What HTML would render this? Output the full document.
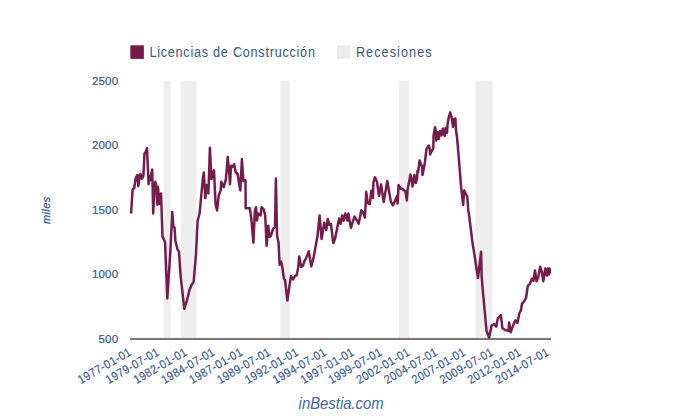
<!DOCTYPE html>
<html><head><meta charset="utf-8"><style>
html,body{margin:0;padding:0;background:#fff;}
body{width:680px;height:420px;overflow:hidden;}
svg{display:block;}
text{font-family:"Liberation Sans",sans-serif;}
</style></head><body>
<svg width="680" height="420" viewBox="0 0 680 420">
<rect x="0" y="0" width="680" height="420" fill="#fff"/>
<rect x="130.3" y="45.3" width="13.6" height="13.6" fill="#761c4c"/>
<text transform="translate(149.4,56.9) scale(0.83,1)" font-size="15.2" textLength="199.4" lengthAdjust="spacing" fill="#35568f">Licencias de Construcción</text>
<rect x="336.8" y="45.3" width="13.6" height="13.6" fill="#ececec"/>
<text transform="translate(355.9,56.9) scale(0.83,1)" font-size="15.2" textLength="91.2" lengthAdjust="spacing" fill="#35568f">Recesiones</text>
<rect x="163.70" y="80.5" width="6.90" height="258" fill="#eeeeee"/><rect x="180.80" y="80.5" width="15.70" height="258" fill="#eeeeee"/><rect x="280.30" y="80.5" width="9.40" height="258" fill="#eeeeee"/><rect x="399.30" y="80.5" width="9.60" height="258" fill="#eeeeee"/><rect x="475.50" y="80.5" width="17.20" height="258" fill="#eeeeee"/>
<rect x="130" y="338" width="421" height="2" fill="#777"/>
<path d="M131.1,213.5 L132.6,189.3 L134.2,188.3 L135.2,181 L135.7,178.1 L137.3,175 L138.3,186.2 L139.8,175 L140.4,174 L141.9,178.6 L143.4,176 L144.5,153.4 L145.5,152.4 L147,148.2 L148.1,173 L148.6,184.2 L149.5,176 L150.1,180.2 L152.2,169.4 L153.2,213.5 L154.8,183.1 L155.3,181.7 L156.3,186 L157.4,204.8 L158,187 L159.4,203.7 L161,193.4 L162.5,236.6 L164,239.7 L165.1,242.8 L167.3,298.5 L170.2,254 L172.3,212 L173.3,226.3 L174.5,227.5 L175.4,240.7 L177.4,249 L179,252 L180.5,274.6 L184.3,308.8 L186.9,300.6 L189.4,290.3 L191.5,285 L193.6,282 L196,254 L197.6,221 L199.6,213.5 L202.7,180 L203.8,172.4 L205.3,198.1 L206.5,185 L208.4,193.4 L209.9,147.7 L211.5,179.1 L214,170.4 L215.6,204.8 L217.1,210.4 L218.7,195.5 L220.7,190.4 L221.3,181.7 L223.8,187.3 L225.9,179.1 L227.7,157 L229.5,176 L230,184.2 L231,165.7 L232.5,167 L234.1,164.2 L235.7,172 L237.7,174 L239,183 L240.3,190.4 L241.9,159 L243.4,181 L245.5,180.2 L245.7,208.2 L247,208.2 L249.8,208.2 L251.3,218.5 L253.4,242.7 L254.9,210.3 L256,207.2 L257,220.6 L258,213.4 L260.6,215.4 L261.6,207.2 L263.7,209.3 L265.2,215.4 L266.6,245.8 L268.3,225.7 L269.5,237 L270.9,236 L273,228.8 L275,226.8 L275.9,178.4 L277.1,236 L278.6,243 L279.6,264.8 L281.2,261.7 L282.3,267 L283.8,278.4 L285,280 L287.4,300.5 L289.5,285.6 L291,276.3 L293.1,279.4 L295,276 L296.7,275.3 L298.3,267 L299.2,256.6 L301.3,266.9 L303,265.5 L304.6,260.7 L306,258.6 L308.8,251.4 L311.3,266.4 L313.4,258.7 L316,244.2 L317.5,236 L319.6,215.4 L321.6,239.1 L324.2,222.7 L326.3,229.9 L327.8,219 L329.3,224.7 L330.9,223.7 L333.3,243 L335,239 L339.1,218.5 L340.6,223.7 L342.2,215.4 L343.8,220.6 L345.2,213.4 L346.5,217 L347.4,220.5 L348.4,213.5 L349.5,220 L351,227.8 L352.5,222.7 L354.6,216.5 L358.7,223.7 L361.3,210.3 L363,212 L364.9,217.5 L365.9,200 L366.2,191.8 L367.7,203.1 L369.8,204.1 L371.3,190.7 L372.9,198 L373.4,182.5 L374.9,177.4 L376.9,181.5 L379,195.9 L381.1,184.6 L383.7,202.1 L387.3,181 L390.9,202.1 L393,205.2 L395,201 L397.1,195.9 L397.6,203.6 L398.6,185.1 L400.7,188.7 L402.2,188.7 L405.5,191.5 L406.9,200.5 L407.6,189.4 L408.9,183.1 L410.4,174.5 L411.8,180.5 L412.5,186.5 L413.5,180 L414.4,175 L415.7,183 L417,178.9 L417.5,171 L418.2,172 L419.6,160.5 L421,164.4 L422,166 L422.5,175 L424.1,167 L425,161.5 L426.5,149 L428.8,145.5 L429.6,147.5 L430.1,154.5 L431.7,151 L433.3,148.5 L433.6,135 L435.1,127.3 L436,132 L436.3,140.5 L437.5,132 L438.7,139 L440.2,131 L441.4,135.5 L442.9,128.5 L444.6,136 L445.8,128 L447,133 L447.6,124 L448.8,117 L450.2,112.4 L451.4,116.5 L452.2,121 L453,127 L454.2,119 L455.4,118.5 L456,130 L457.1,138 L457.7,145 L459.1,161.7 L461.1,187.4 L463.2,205 L464.2,190.5 L467.3,196.7 L468.3,211.1 L468.7,212.1 L472.8,245.1 L473.4,248.1 L478,278 L481.1,251.7 L481.6,274.9 L482.4,286.2 L486.5,330.7 L489.1,337.5 L491.6,325.6 L494.2,324 L496.3,326.6 L497.8,318.4 L500.9,315.3 L502.4,328.2 L505.5,330.2 L508.6,330.7 L509.1,322.5 L510.7,332.3 L512.2,327.7 L515.3,320.4 L517.4,323 L519.4,313.2 L521,310 L522,303.7 L524,301.6 L526.1,297.5 L527.8,285.9 L529.9,283.8 L531.9,278.7 L533.5,280.7 L535,270.4 L536.6,281.3 L538.1,277.7 L540.2,266.8 L541.7,271.5 L543.3,281.3 L545.3,268.4 L546.9,275.6 L547.9,268.4 L549,274.6 L549.6,268.4 L550,273.5" fill="none" stroke="#761c4c" stroke-width="2.5" stroke-linejoin="round" stroke-linecap="butt"/>
<g font-size="11.5" letter-spacing="0.15" stroke="#35568f" stroke-width="0.2" fill="#35568f"><text x="118.2" y="85.4" text-anchor="end">2500</text><text x="118.2" y="149.4" text-anchor="end">2000</text><text x="118.2" y="213.9" text-anchor="end">1500</text><text x="118.2" y="278.3" text-anchor="end">1000</text><text x="118.2" y="342.7" text-anchor="end">500</text></g>
<g font-size="12.1" stroke="#35568f" stroke-width="0.15" fill="#35568f"><text transform="translate(132.09,354.6) rotate(-30) scale(0.9,1)" textLength="65.9" lengthAdjust="spacing" text-anchor="end">1977-01-01</text><text transform="translate(159.93,354.6) rotate(-30) scale(0.9,1)" textLength="65.9" lengthAdjust="spacing" text-anchor="end">1979-07-01</text><text transform="translate(187.77,354.6) rotate(-30) scale(0.9,1)" textLength="65.9" lengthAdjust="spacing" text-anchor="end">1982-01-01</text><text transform="translate(215.61,354.6) rotate(-30) scale(0.9,1)" textLength="65.9" lengthAdjust="spacing" text-anchor="end">1984-07-01</text><text transform="translate(243.45,354.6) rotate(-30) scale(0.9,1)" textLength="65.9" lengthAdjust="spacing" text-anchor="end">1987-01-01</text><text transform="translate(271.29,354.6) rotate(-30) scale(0.9,1)" textLength="65.9" lengthAdjust="spacing" text-anchor="end">1989-07-01</text><text transform="translate(299.13,354.6) rotate(-30) scale(0.9,1)" textLength="65.9" lengthAdjust="spacing" text-anchor="end">1992-01-01</text><text transform="translate(326.97,354.6) rotate(-30) scale(0.9,1)" textLength="65.9" lengthAdjust="spacing" text-anchor="end">1994-07-01</text><text transform="translate(354.81,354.6) rotate(-30) scale(0.9,1)" textLength="65.9" lengthAdjust="spacing" text-anchor="end">1997-01-01</text><text transform="translate(382.65,354.6) rotate(-30) scale(0.9,1)" textLength="65.9" lengthAdjust="spacing" text-anchor="end">1999-07-01</text><text transform="translate(410.49,354.6) rotate(-30) scale(0.9,1)" textLength="65.9" lengthAdjust="spacing" text-anchor="end">2002-01-01</text><text transform="translate(438.33,354.6) rotate(-30) scale(0.9,1)" textLength="65.9" lengthAdjust="spacing" text-anchor="end">2004-07-01</text><text transform="translate(466.17,354.6) rotate(-30) scale(0.9,1)" textLength="65.9" lengthAdjust="spacing" text-anchor="end">2007-01-01</text><text transform="translate(494.01,354.6) rotate(-30) scale(0.9,1)" textLength="65.9" lengthAdjust="spacing" text-anchor="end">2009-07-01</text><text transform="translate(521.85,354.6) rotate(-30) scale(0.9,1)" textLength="65.9" lengthAdjust="spacing" text-anchor="end">2012-01-01</text><text transform="translate(549.69,354.6) rotate(-30) scale(0.9,1)" textLength="65.9" lengthAdjust="spacing" text-anchor="end">2014-07-01</text></g>
<text transform="translate(50,224.1) rotate(-90)" font-size="11" letter-spacing="0.4" stroke="#35568f" stroke-width="0.25" font-style="italic" fill="#35568f">miles</text>
<text transform="translate(298.6,408.5) scale(0.92,1)" font-size="16.2" textLength="92.5" lengthAdjust="spacing" font-style="italic" fill="#4565a0">inBestia.com</text>
</svg>
</body></html>
